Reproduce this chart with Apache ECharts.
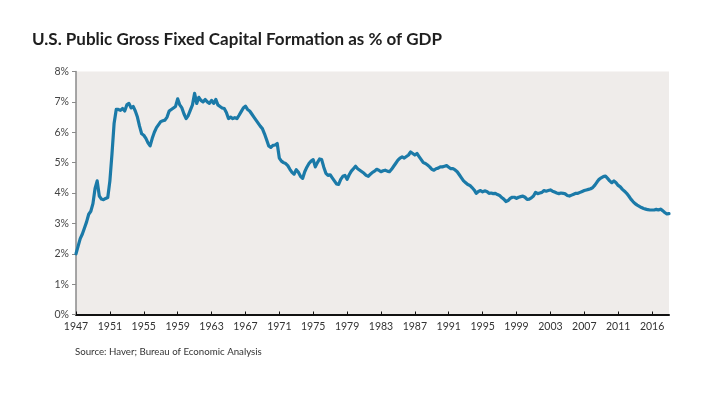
<!DOCTYPE html>
<html>
<head>
<meta charset="utf-8">
<script src="https://cdn.jsdelivr.net/npm/echarts@6/dist/echarts.min.js"></script>
<style>
html,body{margin:0;padding:0;background:#fff;}
#chart{width:720px;height:399px;}
</style>
</head>
<body>
<div id="chart"></div>
<script>
// Quarterly series, 1947Q1 .. 2017Q1 (percent of GDP)
const startYear = 1947;
const values = [
  2.0, 2.25, 2.5, 2.65,      // 1947
  2.85, 3.05, 3.3, 3.4,      // 1948
  3.65, 4.15, 4.4, 3.9,      // 1949
  3.8, 3.78, 3.82, 3.85,     // 1950
  4.4, 5.3, 6.3, 6.75,       // 1951
  6.75, 6.72, 6.78, 6.7,     // 1952
  6.9, 6.95, 6.8, 6.85,      // 1953
  6.7, 6.5, 6.2, 5.95,       // 1954
  5.9, 5.8, 5.65, 5.55,      // 1955
  5.8, 6.0, 6.15, 6.25,      // 1956
  6.35, 6.38, 6.4, 6.5,      // 1957
  6.7, 6.75, 6.8, 6.85,      // 1958
  7.1, 6.9, 6.8, 6.6,        // 1959
  6.45, 6.55, 6.73, 6.9,     // 1960
  7.28, 6.95, 7.15, 7.05,    // 1961
  7.0, 7.08, 7.0, 6.95,      // 1962
  7.05, 6.95, 7.08, 6.9,     // 1963
  6.85, 6.8, 6.78, 6.65,     // 1964
  6.45, 6.5, 6.45, 6.48,     // 1965
  6.45, 6.56, 6.68, 6.8,     // 1966
  6.86, 6.75, 6.7, 6.6,      // 1967
  6.5, 6.4, 6.3, 6.2,        // 1968
  6.12, 5.95, 5.75, 5.55,    // 1969
  5.5, 5.57, 5.58, 5.63,     // 1970
  5.15, 5.05, 5.0, 4.97,     // 1971
  4.9, 4.78, 4.68, 4.62,     // 1972
  4.77, 4.68, 4.55, 4.48,    // 1973
  4.7, 4.85, 4.97, 5.05,     // 1974
  5.1, 4.86, 5.0, 5.12,      // 1975
  5.1, 4.85, 4.65, 4.58,     // 1976
  4.6, 4.5, 4.4, 4.3,        // 1977
  4.28, 4.45, 4.55, 4.58,    // 1978
  4.45, 4.6, 4.72, 4.8,      // 1979
  4.88, 4.8, 4.75, 4.7,      // 1980
  4.65, 4.58, 4.55, 4.62,    // 1981
  4.68, 4.72, 4.78, 4.75,    // 1982
  4.7, 4.73, 4.75, 4.72,     // 1983
  4.7, 4.78, 4.88, 4.98,     // 1984
  5.08, 5.15, 5.19, 5.15,    // 1985
  5.2, 5.25, 5.35, 5.3,      // 1986
  5.25, 5.3, 5.2, 5.1,       // 1987
  5.0, 4.97, 4.92, 4.86,     // 1988
  4.78, 4.75, 4.8, 4.82,     // 1989
  4.86, 4.86, 4.88, 4.9,     // 1990
  4.85, 4.8, 4.8, 4.76,      // 1991
  4.7, 4.6, 4.5, 4.4,        // 1992
  4.34, 4.28, 4.25, 4.18,    // 1993
  4.1, 3.99, 4.05, 4.08,     // 1994
  4.04, 4.07, 4.05, 3.99,    // 1995
  4.0, 3.98, 3.99, 3.95,     // 1996
  3.92, 3.85, 3.8, 3.72,     // 1997
  3.75, 3.82, 3.86, 3.86,    // 1998
  3.82, 3.86, 3.88, 3.9,     // 1999
  3.86, 3.79, 3.8, 3.84,     // 2000
  3.9, 4.02, 3.98, 4.0,      // 2001
  4.02, 4.08, 4.06, 4.08,    // 2002
  4.1, 4.06, 4.03, 4.0,      // 2003
  3.98, 4.0, 3.99, 3.97,     // 2004
  3.92, 3.9, 3.93, 3.96,     // 2005
  3.99, 3.99, 4.02, 4.05,    // 2006
  4.08, 4.1, 4.12, 4.14,     // 2007
  4.18, 4.26, 4.36, 4.45,    // 2008
  4.5, 4.54, 4.56, 4.48,     // 2009
  4.4, 4.34, 4.4, 4.34,      // 2010
  4.25, 4.2, 4.12, 4.06,     // 2011
  3.99, 3.9, 3.8, 3.72,      // 2012
  3.65, 3.6, 3.56, 3.52,     // 2013
  3.49, 3.47, 3.45, 3.44,    // 2014
  3.44, 3.44, 3.46, 3.44,    // 2015
  3.47, 3.42, 3.36, 3.31,    // 2016
  3.32                       // 2017
];
const categories = values.map((v, i) => (startYear + Math.floor(i / 4)) + 'Q' + (i % 4 + 1));
const tickLabels = ['1947','1951','1955','1959','1963','1967','1971','1975','1979','1983','1987','1991','1995','1999','2003','2007','2011','2016'];
const yTicks = [0, 1, 2, 3, 4, 5, 6, 7, 8];

const chart = echarts.init(document.getElementById('chart'), null, {renderer: 'canvas'});
const FONT = 'Lato, "Open Sans", sans-serif';
chart.setOption({
  animation: false,
  backgroundColor: '#ffffff',
  title: [
    {
      text: 'U.S. Public Gross Fixed Capital Formation as % of GDP',
      left: 32, top: 31, padding: 0,
      textStyle: {fontFamily: FONT, fontSize: 17, fontWeight: 'bold', color: '#1e1e1e'}
    },
    {
      text: 'Source: Haver; Bureau of Economic Analysis',
      left: 75, top: 347, padding: 0,
      textStyle: {fontFamily: FONT, fontSize: 9.7, fontWeight: 'normal', color: '#333333'}
    }
  ],
  grid: {
    left: 76, right: 51, top: 71.5, bottom: 84.5,
    show: true, backgroundColor: '#efecea', borderWidth: 0
  },
  xAxis: {
    type: 'category',
    data: categories,
    boundaryGap: false,
    axisLine: {lineStyle: {color: '#111111', width: 2}},
    axisTick: {show: true, inside: true, length: 3, interval: 15, lineStyle: {color: '#111111', width: 1}},
    axisLabel: {
      interval: 15,
      margin: 7,
      fontFamily: FONT, fontSize: 10.5, color: '#333333',
      formatter: (val, idx) => tickLabels[Math.round(idx / 16)] || ''
    },
    splitLine: {show: false}
  },
  yAxis: {
    type: 'value',
    min: yTicks[0], max: yTicks[yTicks.length - 1], interval: 1,
    axisLine: {show: true, lineStyle: {color: '#8a8a8a', width: 1.5}},
    axisTick: {show: true, length: 4, lineStyle: {color: '#8a8a8a'}},
    axisLabel: {fontFamily: FONT, fontSize: 10.5, color: '#444444', margin: 7, formatter: '{value}%'},
    splitLine: {show: false}
  },
  series: [{
    type: 'line',
    data: values,
    showSymbol: false,
    symbol: 'none',
    smooth: false,
    lineStyle: {color: '#1b7aa8', width: 3.2, join: 'round', cap: 'round'},
    z: 3
  }]
});
</script>
</body>
</html>
